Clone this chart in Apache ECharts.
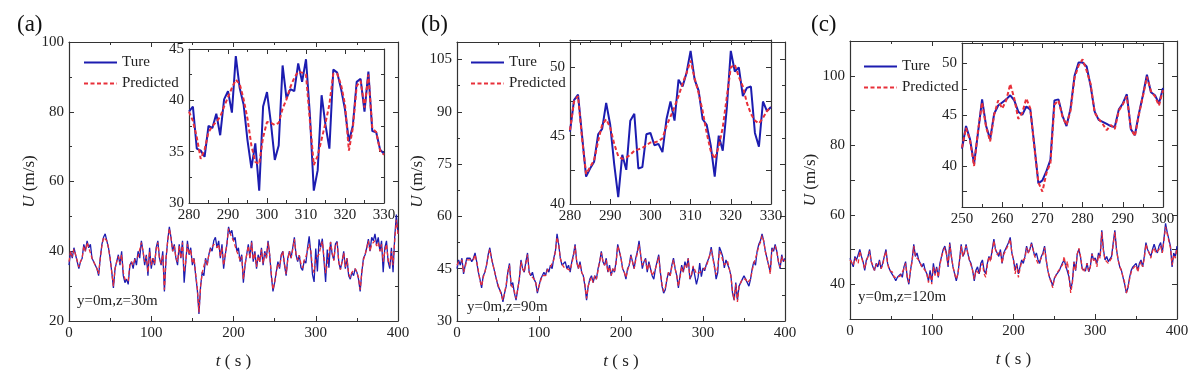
<!DOCTYPE html>
<html>
<head>
<meta charset="utf-8">
<script src="https://cdn.jsdelivr.net/npm/echarts@6/dist/echarts.min.js"></script>
<style>
  html, body { margin: 0; padding: 0; background: #fff; }
  #chart { width: 1192px; height: 375px; }
</style>
</head>
<body>
<div id="chart"></div>
<script>
// main panels: one value every 2 s, t = 0 ... 400 s
const mainStep = 2;

const trueA = [
  36, 40, 38, 41, 39, 39, 35, 37, 38, 42,
  40, 43, 41, 42, 38, 37, 36, 35, 33, 38,
  42, 44, 45, 43, 41, 38, 34, 29.5, 35, 37,
  39, 36, 40, 33, 31, 32, 30.5, 36, 37, 35,
  38, 36, 40, 38, 43, 40, 36, 39, 33, 41,
  35, 38, 36, 41, 43, 38, 36, 40, 28.5, 38,
  43, 47, 44, 40, 42, 38, 36, 42, 38, 43,
  31, 37, 43, 39, 41, 36, 38, 33, 29, 22,
  30, 34, 33, 38, 36, 39, 41, 40, 43, 44,
  41, 43, 38, 42, 35, 39, 42, 47, 45, 46,
  43, 44, 40, 41, 37, 39, 31, 36, 39, 42,
  38, 43, 37, 40, 35, 39, 37, 41, 36, 40,
  38, 43, 39, 33, 28.5, 31, 34, 37, 35, 39,
  40, 36, 33, 38, 40, 38, 41, 44, 39, 37,
  38.9, 35.3, 34.5, 37.3, 36.6, 40.9, 44.3, 39.6, 33.4, 31.2,
  40.8, 34.2, 43.4, 41.1, 43.6, 44.0, 31.2, 40.5, 35.3, 42.7,
  39.1, 37.5, 42.1, 42.8, 36.9, 34.8, 37, 40, 35, 38,
  33, 32, 34, 33, 35, 34, 32, 28.5, 34, 38,
  39, 41, 43.5, 40, 44, 43, 45, 42, 44, 40,
  43, 34, 41, 43, 37, 35, 41, 34, 44, 50.5,
  45
];
const predA = [
  37, 40, 38.5, 40.5, 39, 38.5, 35.5, 37, 38, 41.5,
  40, 42.5, 41, 41.5, 38, 37, 36, 35, 33.5, 38,
  41.5, 44, 44.5, 43, 41, 38, 34, 30, 35, 37,
  38.5, 36.5, 39, 34, 32, 32.5, 31.5, 36, 37, 36,
  37.5, 37, 38.5, 38, 42.5, 40, 37, 38.5, 34, 40,
  36, 38, 36.5, 40.5, 42.5, 38, 36.5, 39, 29, 38,
  43, 46.5, 44, 40, 41.5, 38, 37, 41.5, 38, 42.5,
  34, 37, 42, 39, 40.5, 36.5, 38, 33.5, 29.5, 22.5,
  30, 34, 33.5, 37.5, 36, 39, 40.5, 40, 42, 42,
  41, 42, 38.5, 41, 36, 39, 42, 46.5, 45, 45,
  43, 43.5, 40, 40.5, 37.5, 38.5, 32, 36, 39, 41.5,
  38, 42.5, 37.5, 39.5, 35.5, 38.5, 37, 40.5, 36.5, 39.5,
  38, 42.5, 39, 33.5, 29, 31, 34, 36.5, 35.5, 38.5,
  40, 36.5, 33.5, 37.5, 40, 38, 40.5, 43.5, 39, 37.5,
  38.9, 36.4, 35.2, 37.5, 38.4, 40.3, 42.0, 40.1, 35.6, 33.8,
  37.9, 37.6, 39.2, 41.3, 42.8, 42.5, 33.7, 36.2, 39.6, 42.6,
  39.6, 37.3, 41.9, 42.5, 36.9, 34.7, 37, 39.5, 35.5, 38,
  33.5, 32.5, 34, 33.5, 35, 34, 32.5, 29, 34, 37.5,
  39, 41, 43, 40, 42, 42, 43, 41.5, 42.5, 40,
  42, 37, 40, 42, 37.5, 36, 40, 36, 43, 49,
  45
];

const trueB = [
  45, 47.5, 46, 48, 43.5, 46, 48, 47.5, 48, 47,
  48, 49.5, 47, 44, 42, 39.5, 43, 44, 46, 49,
  51, 48, 46, 44, 42, 40, 39, 38, 35.5, 38,
  40, 44, 46.5, 40, 41, 38, 36, 39, 42, 47.5,
  45, 44, 47, 49.5, 44, 43, 44, 42, 41, 38,
  40, 42, 43, 44, 43, 45, 44, 46, 45, 48,
  50, 55, 52, 48, 46, 45.5, 47, 45, 46, 44,
  47, 49, 52, 47, 45, 47, 44, 43, 40, 36,
  40, 42, 43, 41, 43, 42, 45, 47, 50, 47,
  46, 48, 44, 46, 43, 45, 44, 47, 52, 50,
  48, 45, 44, 42, 45, 46, 49, 47, 45, 48,
  50, 53, 49, 45, 47, 48, 44, 47, 45, 43,
  42, 45, 47, 49, 44, 40, 38, 39, 42, 44,
  43, 46, 48, 45, 43, 39.5, 43, 46, 44, 47,
  45.3, 48.0, 42.0, 43.1, 45.5, 45.8, 40.5, 42.5, 46.6, 42.7,
  45.2, 44.4, 46.2, 46.1, 48.6, 51.2, 48.3, 45.8, 42.0, 43.9,
  51.2, 50.0, 48.5, 45.2, 47.5, 47.1, 45, 43, 38, 36,
  41, 36, 40, 41, 42, 43, 42, 41, 40, 42,
  45, 47, 46, 50, 52, 53, 55, 53, 50, 48,
  46, 44, 51, 50, 52, 50, 47, 45, 49, 47,
  48
];
const predB = [
  46, 47, 46.5, 47.5, 44, 45.5, 47.5, 47.5, 47.5, 47,
  47.5, 49, 47, 44.5, 41.5, 40, 42.5, 44, 46, 48.5,
  50.5, 48, 46, 44, 42, 40.5, 39, 37.5, 36, 38,
  40.5, 44, 46, 40.5, 41, 38.5, 36.5, 39, 42, 47,
  45, 44, 46.5, 49, 44, 43, 43.5, 42, 41, 38.5,
  40, 41.5, 43, 43.5, 43, 44.5, 44, 45.5, 45, 47.5,
  50, 54, 52, 48, 46.5, 45.5, 46, 45, 45.5, 44.5,
  46.5, 48.5, 51.5, 47, 45, 46.5, 44, 43, 40.5, 36.5,
  40, 41.5, 42.5, 41, 43, 42, 44.5, 47, 49.5, 47,
  46, 47.5, 44, 45.5, 43, 45, 44, 46.5, 51.5, 50,
  48, 45, 44, 42.5, 44.5, 46, 48.5, 47, 45, 47.5,
  49.5, 52, 49, 46, 46.5, 47.5, 44.5, 46.5, 45, 43,
  42.5, 45, 46.5, 48.5, 44, 40.5, 38.5, 39.5, 42, 44,
  43, 45.5, 47.5, 45, 43, 40, 42.5, 45.5, 44, 46,
  45.4, 47.9, 42.2, 43.2, 45.8, 45.6, 43.5, 43.4, 43.9, 44.1,
  44.5, 44.6, 45.7, 47.1, 48.8, 50.5, 48.1, 45.2, 43.3, 45.6,
  50.0, 49.3, 47.4, 46.1, 46.3, 47.1, 45, 43, 38.5, 36,
  40.5, 35.5, 40, 41, 42, 42.5, 42, 41, 40.5, 42,
  44.5, 46.5, 46, 49.5, 51.5, 52.5, 54.5, 53, 50, 48,
  46, 43.5, 50, 50, 51.5, 50, 47, 45.5, 48.5, 47,
  47.5
];

const trueC = [
  47.5, 47, 45, 48, 47, 46.5, 50, 48, 46.5, 44,
  47, 48, 50, 46.5, 45, 44, 46, 45, 47, 44.5,
  46, 48, 50, 46, 44.5, 43.5, 44, 42, 41, 42,
  41.5, 43, 42, 45, 46.5, 42, 40, 44, 47, 51.5,
  48, 49, 47, 46.5, 45, 46, 44, 43, 41, 44,
  40.5, 46, 43, 45, 42, 46, 48, 50, 51, 49,
  45, 52, 48, 45, 43, 41, 43, 47, 51.5, 48,
  49, 51.5, 49, 47, 46, 44, 41, 44, 45, 43,
  46, 47, 44, 43, 46, 48, 47, 50, 53, 50,
  49, 48, 50, 46, 49, 50, 51, 52, 53.5, 49,
  47, 44, 46, 43, 45, 47, 46, 48, 51, 49,
  50, 52, 50, 48, 49, 47, 46, 48, 49, 51,
  47, 44, 42, 41, 39.5, 41.7, 42.6, 43.3, 43.9, 45.1,
  46.2, 46.9, 45.3, 45.8, 42.0, 38.6, 40.6, 46.5, 43.9, 48.8,
  50.1, 47.8, 44.5, 44.1, 43.8, 46.1, 43.6, 45.1, 48.9, 46.9,
  47.6, 46, 49, 48, 55.5, 50, 47, 48, 46.5, 46,
  48, 52, 55.5, 50, 47, 45, 44, 42, 40, 37.5,
  39, 42, 44, 45, 45, 46, 44, 46, 47, 45,
  48, 52, 50, 49.5, 48, 50, 51.5, 50, 49, 51,
  52, 49, 53, 57.5, 55, 53, 51, 45, 49, 48,
  51
];
const predC = [
  47, 47.5, 45.5, 47.5, 47, 46, 49.5, 48, 46, 44.5,
  46.5, 48, 49.5, 46.5, 45.5, 44, 45.5, 45, 46.5, 44.5,
  45.5, 48, 49.5, 46, 44, 43.5, 43.5, 42, 41.5, 42,
  41.5, 42.5, 42, 44.5, 46, 42, 40.5, 44, 46.5, 51,
  48, 48.5, 47, 46, 45, 45.5, 44, 43, 40.5, 43,
  40, 45, 42.5, 44.5, 42, 45.5, 48, 49.5, 50.5, 48.5,
  45.5, 51.5, 48, 45, 43, 41.5, 43, 46.5, 51, 48,
  48.5, 51, 49, 47, 45.5, 44, 41.5, 44, 44.5, 43,
  45, 46, 43, 42, 45.5, 48, 46.5, 49.5, 52.5, 50,
  48.5, 48, 49.5, 46, 48.5, 49.5, 50.5, 51.5, 53, 49,
  47, 43, 45.5, 42, 44.5, 46.5, 46, 47.5, 50.5, 49,
  49.5, 51.5, 50, 48, 48.5, 46, 45.5, 47.5, 48.5, 50.5,
  47, 44, 42, 41.5, 39, 41.8, 42.5, 43.5, 43.8, 45.0,
  45.6, 48.0, 44.6, 46.6, 41.8, 37.5, 40.3, 46.4, 44.0, 48.6,
  50.4, 48.0, 44.6, 43.5, 43.6, 46.0, 43.7, 45.0, 48.7, 46.8,
  47.4, 45, 48.5, 47.5, 55, 49.5, 47, 47.5, 46, 45.5,
  47.5, 51.5, 55, 50, 47, 45, 44, 42, 40.5, 37.5,
  39, 41.5, 43.5, 44.5, 44, 45.5, 43.5, 45.5, 46.5, 45,
  47.5, 51.5, 50, 49, 47.5, 49.5, 50.5, 49, 48.5, 50,
  51, 49, 52.5, 56.5, 54.5, 52.5, 50.5, 45.5, 48.5, 47.5,
  50.5
];

// insets: one value every 1 s
const insetStartA = 280;
const insetTrueA = [
  38.9, 39.4, 35.3, 35.1, 34.5, 37.5, 37.3, 38.7, 36.6, 40.1,
  40.9, 38.8, 44.3, 41.2, 39.6, 36.1, 33.4, 35.8, 31.2, 39.4,
  40.8, 37.8, 34.2, 35.6, 43.4, 40.2, 41.1, 40.9, 43.6, 41.8,
  44.0, 38.6, 31.2, 33.2, 40.5, 37.6, 35.3, 43.0, 42.7, 41.1,
  39.1, 36.0, 37.5, 41.8, 42.1, 38.9, 42.8, 37.0, 36.9, 35.2,
  34.8
];
const insetPredA = [
  38.9, 38.0, 36.4, 34.3, 35.2, 36.9, 37.5, 37.9, 38.4, 39.4,
  40.3, 41.2, 42.0, 41.6, 40.1, 38.2, 35.6, 34.0, 33.8, 36.4,
  37.9, 37.8, 37.6, 37.8, 39.2, 40.1, 41.3, 42.2, 42.8, 42.7,
  42.5, 38.0, 33.7, 34.6, 36.2, 37.8, 39.6, 42.6, 42.6, 41.5,
  39.6, 35.1, 37.3, 41.4, 41.9, 39.3, 42.5, 37.3, 36.9, 35.1,
  34.7
];
const insetStartB = 280;
const insetTrueB = [
  45.3, 47.6, 48.0, 45.0, 42.0, 42.6, 43.1, 45.1, 45.5, 47.4,
  45.8, 42.9, 40.5, 43.6, 42.5, 46.1, 46.6, 42.6, 42.7, 45.1,
  45.2, 44.3, 44.4, 43.8, 46.2, 47.5, 46.1, 49.1, 48.6, 49.6,
  51.2, 49.1, 48.3, 46.2, 45.8, 44.3, 42.0, 45.0, 43.9, 47.0,
  51.2, 49.7, 50.0, 47.9, 48.5, 48.6, 45.2, 44.2, 47.5, 46.8,
  47.1
];
const insetPredB = [
  45.4, 47.5, 47.9, 44.8, 42.2, 42.7, 43.2, 44.6, 45.8, 46.2,
  45.6, 44.4, 43.5, 43.3, 43.4, 43.6, 43.9, 44.0, 44.1, 44.3,
  44.5, 44.5, 44.6, 44.8, 45.7, 46.4, 47.1, 47.9, 48.8, 49.6,
  50.5, 49.2, 48.1, 46.8, 45.2, 43.9, 43.3, 44.2, 45.6, 47.8,
  50.0, 50.2, 49.3, 48.6, 47.4, 46.6, 46.1, 45.9, 46.3, 46.8,
  47.1
];
const insetStartC = 250;
const insetTrueC = [
  41.7, 43.9, 42.6, 40.2, 43.3, 46.5, 43.9, 42.6, 45.1, 45.9,
  46.2, 46.5, 46.9, 46.4, 45.3, 45.0, 45.8, 45.5, 42.0, 38.3,
  38.6, 39.5, 40.6, 46.4, 46.5, 44.9, 43.9, 45.6, 48.8, 50.1,
  50.1, 49.7, 47.8, 45.3, 44.5, 44.3, 44.1, 43.9, 43.8, 45.5,
  46.1, 47.0, 43.6, 43.0, 45.1, 46.9, 48.9, 47.2, 46.9, 46.1,
  47.6
];
const insetPredC = [
  41.8, 43.7, 42.5, 40.0, 43.5, 46.2, 43.8, 42.4, 45.0, 46.4,
  45.6, 46.4, 48.0, 46.6, 44.6, 45.2, 46.6, 45.6, 41.8, 38.4,
  37.5, 39.3, 40.3, 46.0, 46.4, 44.8, 44.0, 45.4, 48.6, 49.8,
  50.4, 49.3, 48.0, 45.2, 44.6, 44.1, 43.5, 44.0, 43.6, 45.4,
  46.0, 46.8, 43.7, 42.9, 45.0, 46.8, 48.7, 47.3, 46.8, 45.9,
  47.4
];

const yLabelsB = [30, 45, 60, 75, 90, 105];
const yLabelsC = [40, 60, 80, 100];
const yTicksC = [30, 40, 50, 60, 70, 80, 90, 100, 110];
const insetLabelsB = [40, 45, 50];
const insetLabelsC = [40, 45, 50];
const insetTicksC = [37.5, 40, 42.5, 45, 47.5, 50];

const FONT = "Liberation Serif";
const INK = "#222";
const FRAME = "#333";
const BLUE = "#1c1cb0";
const RED = "#e8303a";

function pairs(values, start, step) {
  return values.map((v, i) => [start + i * step, v]);
}

// every grid gets a box: bottom/left axes with labels, top/right mirrors with ticks only
function axis(gi, pos, o, mirror) {
  const a = {
    type: "value",
    gridIndex: gi,
    position: pos,
    min: o.min,
    max: o.max,
    axisLine: { show: true, onZero: false, lineStyle: { color: FRAME, width: 1.2 } },
    axisTick: { show: true, inside: true, length: 5, lineStyle: { color: FRAME, width: 1 } },
    minorTick: { show: !!o.minor, splitNumber: 2, length: 3, lineStyle: { color: FRAME } },
    splitLine: { show: false },
    axisLabel: {
      show: !mirror,
      margin: 5,
      fontFamily: FONT,
      fontSize: 15,
      color: INK,
    },
  };
  if (o.interval) a.interval = o.interval;
  if (o.labels) a.axisLabel.customValues = o.labels;
  if (o.ticks) a.axisTick.customValues = o.ticks;
  return a;
}

const nameStyle = {
  fontFamily: FONT,
  fontSize: 17,
  color: INK,
  rich: { i: { fontFamily: FONT, fontSize: 17, fontStyle: "italic", color: INK } },
};

const frames = [
  { x: { min: 0, max: 400, interval: 100, minor: true }, y: { min: 20, max: 100, interval: 20, minor: true }, main: true },
  { x: { min: 0, max: 400, interval: 100, minor: true }, y: { min: 30, max: 110, interval: 15, minor: true, labels: yLabelsB }, main: true },
  { x: { min: 0, max: 400, interval: 100, minor: true }, y: { min: 30, max: 110, interval: 10, labels: yLabelsC, ticks: yTicksC }, main: true },
  { x: { min: 280, max: 330, interval: 10, minor: true }, y: { min: 30, max: 45, interval: 5, minor: true } },
  { x: { min: 280, max: 330, interval: 10, minor: true }, y: { min: 40, max: 52, interval: 2.5, labels: insetLabelsB } },
  { x: { min: 250, max: 300, interval: 10, minor: true }, y: { min: 36, max: 52, labels: insetLabelsC, ticks: insetTicksC } },
];

const xAxes = [];
const yAxes = [];
frames.forEach((f, gi) => {
  const xb = axis(gi, "bottom", f.x, false);
  const yl = axis(gi, "left", f.y, false);
  if (f.main) {
    xb.name = "{i|t} ( s )";
    xb.nameLocation = "middle";
    xb.nameGap = 32;
    xb.nameTextStyle = nameStyle;
    yl.name = "{i|U} (m/s)";
    yl.nameLocation = "middle";
    yl.nameGap = 30;
    yl.nameTextStyle = nameStyle;
  }
  xAxes.push(xb, axis(gi, "top", f.x, true));
  yAxes.push(yl, axis(gi, "right", f.y, true));
});

function lineSeries(name, gi, data, dashed, width) {
  return {
    name: name,
    type: "line",
    xAxisIndex: gi * 2,
    yAxisIndex: gi * 2,
    data: data,
    symbol: "none",
    z: dashed ? 3 : 2,
    itemStyle: { color: dashed ? RED : BLUE },
    lineStyle: { color: dashed ? RED : BLUE, width: width, type: dashed ? [4, 2.5] : "solid" },
  };
}

const series = [
  lineSeries("Ture", 0, pairs(trueA, 0, mainStep), false, 1.3),
  lineSeries("Predicted", 0, pairs(predA, 0, mainStep), true, 1.3),
  lineSeries("Ture", 1, pairs(trueB, 0, mainStep), false, 1.3),
  lineSeries("Predicted", 1, pairs(predB, 0, mainStep), true, 1.3),
  lineSeries("Ture", 2, pairs(trueC, 0, mainStep), false, 1.3),
  lineSeries("Predicted", 2, pairs(predC, 0, mainStep), true, 1.3),
  lineSeries("Ture", 3, pairs(insetTrueA, insetStartA, 1), false, 2),
  lineSeries("Predicted", 3, pairs(insetPredA, insetStartA, 1), true, 2),
  lineSeries("Ture", 4, pairs(insetTrueB, insetStartB, 1), false, 2),
  lineSeries("Predicted", 4, pairs(insetPredB, insetStartB, 1), true, 2),
  lineSeries("Ture", 5, pairs(insetTrueC, insetStartC, 1), false, 2),
  lineSeries("Predicted", 5, pairs(insetPredC, insetStartC, 1), true, 2),
];

function legendAt(left, top) {
  return {
    left: left,
    top: top,
    orient: "vertical",
    itemWidth: 33,
    itemHeight: 14,
    itemGap: 6,
    selectedMode: false,
    data: ["Ture", "Predicted"],
    itemStyle: { opacity: 0 },
    lineStyle: { width: 2 },
    textStyle: { fontFamily: FONT, fontSize: 15, color: INK },
  };
}

function panelTitle(text, left) {
  return { text: text, left: left, top: 8, textStyle: { fontFamily: FONT, fontSize: 23, fontWeight: "normal", color: "#111" } };
}

function note(text, left, top) {
  return { type: "text", left: left, top: top, style: { text: text, font: '15px "Liberation Serif"', fill: INK } };
}

const option = {
  animation: false,
  backgroundColor: "#fff",
  title: [panelTitle("(a)", 12), panelTitle("(b)", 416), panelTitle("(c)", 806)],
  legend: [legendAt(78, 50), legendAt(465, 50), legendAt(858, 54)],
  grid: [
    { left: 69, top: 42, width: 329, height: 279 },
    { left: 457, top: 42, width: 328, height: 279 },
    { left: 850, top: 41, width: 327, height: 278 },
    { left: 189, top: 49, width: 195, height: 154, show: true, backgroundColor: "#fff", borderWidth: 0 },
    { left: 570, top: 40, width: 201, height: 164, show: true, backgroundColor: "#fff", borderWidth: 0 },
    { left: 962, top: 43, width: 201, height: 164, show: true, backgroundColor: "#fff", borderWidth: 0 },
  ],
  xAxis: xAxes,
  yAxis: yAxes,
  series: series,
  graphic: [
    note("y=0m,z=30m", 77, 294),
    note("y=0m,z=90m", 467, 300),
    note("y=0m,z=120m", 858, 290),
  ],
};

const myChart = echarts.init(document.getElementById("chart"));
myChart.setOption(option);
window.addEventListener("resize", () => {
  myChart.resize();
});
</script>
</body>
</html>
